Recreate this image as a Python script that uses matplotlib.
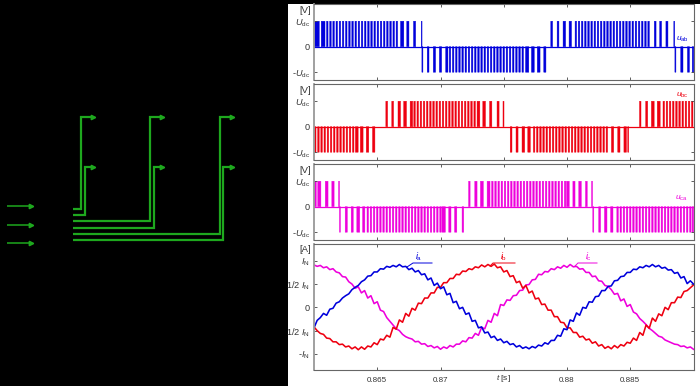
import numpy as np
import matplotlib
matplotlib.use("Agg")
import matplotlib.pyplot as plt
from matplotlib.patches import Rectangle

plt.rcParams['font.family'] = ['Liberation Sans', 'DejaVu Sans']
plt.rcParams['mathtext.fontset'] = 'custom'
plt.rcParams['mathtext.rm'] = 'Liberation Sans'
plt.rcParams['mathtext.it'] = 'Liberation Sans:italic'
plt.rcParams['mathtext.default'] = 'regular'

# Pulse centres in ms after 0.860 s; the width in ms carries the sign of the pulse
uab_centre = [0.23, 0.72, 1.05, 1.30, 1.55, 1.80, 2.05, 2.30, 2.55, 2.80, 3.05, 3.30, 3.55, 3.80, 4.05, 4.30, 4.55,
              4.80, 5.05, 5.30, 5.55, 5.80, 6.05, 6.30, 6.55, 6.97, 7.42, 7.95, 8.51,
              8.57, 9.02, 9.52, 10.00, 10.50, 10.75, 11.00, 11.25, 11.50, 11.75, 12.00, 12.25, 12.50, 12.75, 13.00,
              13.25, 13.50, 13.75, 14.00, 14.25, 14.50, 14.75, 15.00, 15.25, 15.50, 15.75, 16.00, 16.25, 16.50,
              16.85, 17.30, 17.76, 18.25,
              18.79, 19.29, 19.79, 20.26, 20.70, 20.95, 21.20, 21.45, 21.70, 21.95, 22.20, 22.45, 22.70, 22.95, 23.20,
              23.45, 23.70, 23.95, 24.20, 24.45, 24.70, 24.95, 25.20, 25.45, 25.70, 25.95, 26.20, 26.45,
              26.97, 27.40, 27.90, 28.48,
              28.57, 29.08, 29.60, 29.96]
uab_width = [.37, .3] + [.12] * 23 + [.26, .17, .17, .06] + \
            [-.08, -.14, -.18, -.18, -.18] + [-.12] * 24 + [-.26, -.22, -.22, -.17] + \
            [.14, .14, .2, .19] + [.12] * 24 + [.14, .15, .16, .07] + \
            [-.08, -.18, -.16, -.12]

ubc_centre = [0.10, 0.35, 0.60, 0.85, 1.10, 1.35, 1.60, 1.85, 2.10, 2.35, 2.60, 2.85, 3.10, 3.38, 3.77, 4.23, 4.72,
              5.75, 6.22, 6.74, 7.20, 7.70, 7.95, 8.20, 8.45, 8.70, 8.95, 9.20, 9.45, 9.70, 9.95, 10.20, 10.45, 10.70,
              10.95, 11.20, 11.45, 11.70, 11.95, 12.20, 12.45, 12.70, 13.00, 13.45, 13.97, 14.55, 14.98,
              15.58, 16.05, 16.55, 17.00, 17.40, 17.65, 17.90, 18.15, 18.40, 18.65, 18.90, 19.15, 19.40, 19.65, 19.90,
              20.15, 20.40, 20.65, 20.90, 21.15, 21.40, 21.65, 21.90, 22.15, 22.40, 22.65, 22.90, 23.15,
              23.60, 24.10, 24.60, 24.84,
              25.79, 26.30, 26.78, 27.25, 27.65, 27.90, 28.15, 28.40, 28.65, 28.90, 29.15, 29.40, 29.65, 29.90]
ubc_width = [-.12] * 13 + [-.22, -.22, -.2, -.19] + \
            [.14, .14, .2, .22, .2] + [.12] * 20 + [.22, .21, .18, .16, .08] + \
            [-.14, -.16, -.21, -.2] + [-.12] * 24 + [-.18, -.18, -.2, -.08] + \
            [.12, .16, .22, .23] + [.12] * 10

uca_centre = [0.10, 0.42, 1.00, 1.50, 1.98,
              2.05, 2.55, 3.02, 3.50, 3.93, 4.25, 4.50, 4.75, 5.00, 5.25, 5.50, 5.75, 6.00, 6.25, 6.50, 6.75, 7.00,
              7.25, 7.50, 7.75, 8.00, 8.25, 8.50, 8.75, 9.00, 9.25, 9.50, 9.75, 10.00, 10.25, 10.74, 11.20, 11.77,
              12.28, 12.80, 13.27, 13.80, 14.10, 14.35, 14.60, 14.85, 15.10, 15.35, 15.60, 15.85, 16.10, 16.35, 16.60,
              16.85, 17.10, 17.35, 17.60, 17.85, 18.10, 18.35, 18.60, 18.85, 19.10, 19.35, 19.60, 19.85,
              20.07, 20.55, 21.03, 21.53, 21.98,
              22.08, 22.58, 23.06, 23.54, 24.00, 24.25, 24.50, 24.75, 25.00, 25.25, 25.50, 25.75, 26.00, 26.25, 26.50,
              26.75, 27.00, 27.25, 27.50, 27.75, 28.00, 28.25, 28.50, 28.75, 29.00, 29.25, 29.50, 29.75, 29.95]
uca_width = [.16, .25, .22, .18, .08] + \
            [-.08, -.17, -.16, -.23, -.18] + [-.12] * 24 + [-.27, -.18, -.18, -.13] + \
            [.12, .18, .23, .23] + [.12] * 24 + [.21, .17, .2, .14, .08] + \
            [-.08, -.15, -.2, -.19] + [-.12] * 25

# Currents read every 0.25 ms, in units of I_N
ia = [-.44, -.28, -.22, -.13, -.17, -.04, -.02, .09, .12, .2, .25, .29, .38, .43, .47, .55, .59, .67, .68, .76, .76,
      .83, .82, .88, .86, .9, .87, .92, .87, .88, .81, .84, .76, .79, .7, .72, .59, .63, .47, .52, .4, .44, .27, .3,
      .1, .13, -.03, 0, -.15, -.12, -.3, -.28, -.44, -.42, -.55, -.53, -.65, -.62, -.71, -.68, -.76, -.73, -.8, -.78,
      -.85, -.82, -.88, -.85, -.89, -.84, -.87, -.81, -.83, -.76, -.79, -.71, -.71, -.6, -.62, -.46, -.48, -.27, -.3,
      -.12, -.17, 0, -.02, .12, .11, .23, .24, .36, .36, .45, .46, .57, .58, .66, .67, .75, .75, .82, .81, .87, .85,
      .9, .87, .92, .87, .9, .84, .86, .8, .81, .73, .75, .63, .66, .51, .57, .5]
ib = [-.42, -.5, -.56, -.58, -.66, -.67, -.74, -.74, -.8, -.79, -.85, -.83, -.89, -.85, -.91, -.85, -.9, -.83, -.85,
      -.76, -.8, -.68, -.7, -.6, -.64, -.43, -.47, -.27, -.32, -.13, -.19, -.02, -.06, .09, .08, .2, .2, .31, .31,
      .43, .43, .53, .53, .62, .62, .71, .7, .78, .77, .83, .81, .87, .85, .91, .87, .92, .88, .93, .85, .87, .76,
      .79, .66, .68, .53, .56, .41, .47, .31, .35, .18, .2, .06, .07, -.06, -.06, -.2, -.2, -.32, -.33, -.44, -.44,
      -.54, -.54, -.64, -.62, -.7, -.68, -.77, -.74, -.83, -.8, -.88, -.84, -.89, -.82, -.87, -.8, -.83, -.75, -.77,
      -.66, -.71, -.54, -.6, -.38, -.45, -.23, -.3, -.14, -.18, 0, -.05, .1, .1, .22, .21, .34, .36, .42, .48]
ic = [.91, .88, .9, .85, .87, .81, .83, .76, .74, .66, .65, .55, .5, .41, .44, .31, .36, .2, .25, .08, .12, -.06, -.09,
      -.22, -.3, -.38, -.46, -.5, -.58, -.63, -.66, -.68, -.74, -.73, -.79, -.78, -.84, -.82, -.87, -.84, -.9, -.85,
      -.88, -.82, -.85, -.79, -.79, -.72, -.74, -.65, -.66, -.56, -.6, -.43, -.46, -.28, -.32, -.13, -.18, .06, .04,
      .16, .15, .25, .26, .36, .37, .48, .49, .59, .6, .71, .7, .77, .76, .83, .81, .87, .84, .9, .86, .92, .87, .88,
      .82, .83, .75, .75, .66, .67, .57, .56, .47, .45, .38, .28, .3, .14, .18, .02, .06, -.1, -.14, -.24, -.3, -.37,
      -.45, -.5, -.56, -.62, -.64, -.7, -.73, -.76, -.79, -.8, -.84, -.83, -.87, -.85, -.9]

x_ticks = [0.865, 0.87, 0.875, 0.88, 0.885]
x_labels = ['0.865', '0.87', '', '0.88', '0.885']
v_ticks = [1, 0, -1]
v_labels = [r'$\mathit{U}_{dc}$', '0', r'-$\mathit{U}_{dc}$']
i_ticks = [1, .5, 0, -.5, -1]
i_labels = [r'$\mathit{I}_{N}$', r'1/2 $\mathit{I}_{N}$', '0', r'1/2 $\mathit{I}_{N}$', r'-$\mathit{I}_{N}$']

# Green wiring of the left-hand diagram, in image pixels
wire_x = [[73, 81, 81, 93], [73, 85, 85, 93], [73, 150, 150, 162],
          [73, 154, 154, 162], [73, 220, 220, 232], [73, 223, 223, 232]]
wire_y = [[209, 209, 117, 117], [215, 215, 167, 167], [221, 221, 117, 117],
          [228, 228, 167, 167], [234, 234, 117, 117], [240, 240, 167, 167]]
input_x = [7, 31]
input_y = [206, 225, 243]

GREEN = '#1ea81e'
BLUE = '#0000dc'
RED = '#ee0010'
MAG = '#ee00dc'
TEXT = '#333333'
W, H = 700, 386

fig = plt.figure(figsize=(7, 3.86), dpi=100, facecolor='black')
bg = fig.add_axes([0, 0, 1, 1], zorder=0)
bg.set_xlim(0, W)
bg.set_ylim(H, 0)
bg.axis('off')
bg.add_patch(Rectangle((288, 4), W - 288, H - 4, facecolor='white', edgecolor='none'))

for xs, ys in zip(wire_x, wire_y):
    bg.plot(xs, ys, color=GREEN, lw=1.6, solid_joinstyle='miter', solid_capstyle='butt')
    bg.plot(xs[-1], ys[-1], marker='>', ms=3.2, color=GREEN, mec=GREEN)
for y in input_y:
    bg.plot(input_x, [y, y], color=GREEN, lw=1.1, solid_capstyle='butt')
    bg.plot(input_x[-1], y, marker='>', ms=3.2, color=GREEN, mec=GREEN)


def panel(top, bottom):
    ax = fig.add_axes([314 / W, 1 - bottom / H, 379.5 / W, (bottom - top) / H], zorder=1)
    ax.set_xlim(0.86, 0.89)
    ax.set_xticks(x_ticks)
    ax.tick_params(axis='both', direction='in', length=2.2, width=0.6, color='#444444', labelcolor=TEXT,
                   top=True, right=True, pad=3)
    ax.tick_params(axis='x', labelsize=5.8)
    ax.tick_params(axis='y', labelsize=6.6)
    for name, spine in ax.spines.items():
        spine.set_linewidth(0.8)
        spine.set_color('#666666')
    ax.spines['left'].set_linewidth(1.3)
    ax.spines['left'].set_color('#999999')
    return ax


def voltage(top, bottom, centres, widths, color, name, name_x, name_y):
    ax = panel(top, bottom)
    ax.set_ylim(-1.306, 1.675)
    centres_s = 0.86 + np.array(centres) / 1000
    widths_ms = np.array(widths)
    bars = ax.bar(centres_s, np.sign(widths_ms), width=np.abs(widths_ms) / 1000, color=color,
                  edgecolor=color, linewidth=0.3)
    for bar in bars:
        bar.set_snap(False)
    ax.plot([0.86, 0.89], [0, 0], color=color, lw=0.9)
    ax.set_yticks(v_ticks)
    ax.set_yticklabels(v_labels)
    ax.set_xticklabels([])
    bg.text(305, top + 6.5, '[V]', fontsize=6.8, color=TEXT, ha='center', va='center')
    fig.text(name_x / W, 1 - name_y / H, name, fontsize=6, color=color, ha='center', va='center', zorder=5)
    return ax


voltage(4, 80, uab_centre, uab_width, BLUE, r'$\mathit{u}_{ab}$', 682, 39)
voltage(84, 160, ubc_centre, ubc_width, RED, r'$\mathit{u}_{bc}$', 682, 95)
voltage(164, 240, uca_centre, uca_width, MAG, r'$\mathit{u}_{ca}$', 681, 198)

ax4 = panel(244, 370)
ax4.set_ylim(-1.345, 1.36)
t_s = 0.86 + np.arange(len(ia)) * 0.00025
ax4.plot(t_s, ic, color=MAG, lw=1.15)
ax4.plot(t_s, ib, color=RED, lw=1.15)
ax4.plot(t_s, ia, color=BLUE, lw=1.15)
ax4.set_yticks(i_ticks)
ax4.set_yticklabels(i_labels)
ax4.set_xticklabels(x_labels)
ax4.tick_params(axis='x', pad=5)

bg.text(305, 250, '[A]', fontsize=6.8, color=TEXT, ha='center', va='center')
bg.text(503, 379, r'$\mathit{t}$ [s]', fontsize=6, color=TEXT, ha='center', va='center')

overlay = fig.add_axes([0, 0, 1, 1], zorder=4)
overlay.set_xlim(0, W)
overlay.set_ylim(H, 0)
overlay.axis('off')
overlay.plot([407, 413, 432], [267, 263, 263], color=BLUE, lw=0.7)
overlay.plot([490, 493, 515], [266, 263, 263], color=RED, lw=0.7)
overlay.plot([575, 578, 597], [266, 263, 263], color=MAG, lw=0.7)
overlay.text(419, 257, r'$\mathit{i}_{a}$', fontsize=6.5, color=BLUE, ha='center', va='center')
overlay.text(504, 257, r'$\mathit{i}_{b}$', fontsize=6.5, color=RED, ha='center', va='center')
overlay.text(588, 257, r'$\mathit{i}_{c}$', fontsize=6.5, color=MAG, ha='center', va='center')

fig.savefig('out.png', dpi=100, facecolor='black')
